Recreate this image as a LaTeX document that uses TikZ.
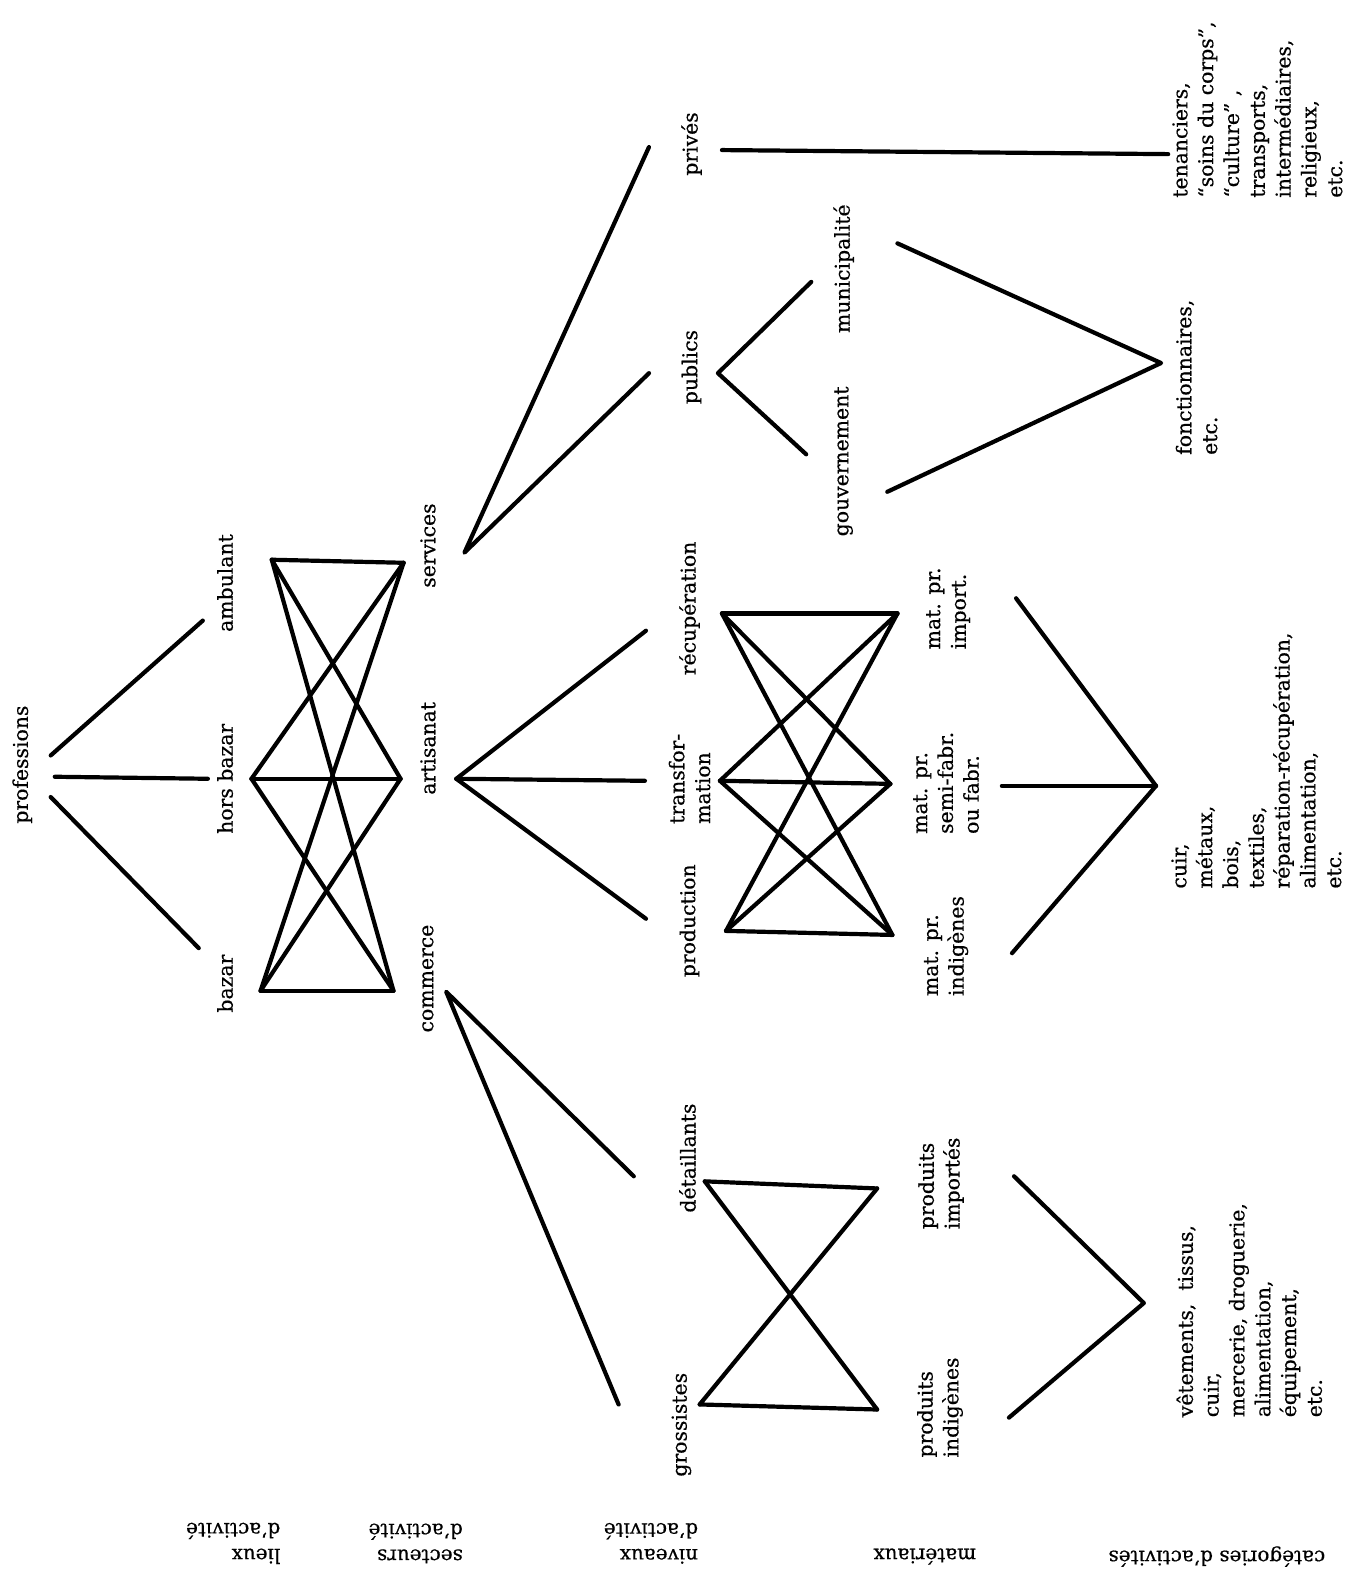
\documentclass[tikz,border=0pt]{standalone}
\usepackage{fontspec}
\setmainfont{DejaVu Serif}
\newfontfamily\lblfont{DejaVu Serif}[Ligatures=TeX,FakeBold=0.5]
\begin{document}
\begin{tikzpicture}[x=0.50713pt,y=-0.50713pt,
  conn/.style={line width=2.1pt, line cap=round, line join=round},
  lbl/.style={rotate=90, align=left, inner sep=0pt, font=\lblfont\fontsize{10.2}{12.9}\selectfont},
  flip/.style={rotate=180, align=left, inner sep=0pt, font=\lblfont\fontsize{10}{12.9}\selectfont}]
\useasboundingbox (0,0) rectangle (1332,1568);

% ---- labels ----
\node[lbl] (prof) at (22,754) {professions};
\node[lbl] (bazar) at (222,970) {bazar};
\node[lbl] (horsbazar) at (222,768) {hors bazar};
\node[lbl] (ambulant) at (222,575) {ambulant};
\node[lbl] (services) at (422,538) {services};
\node[lbl] (artisanat) at (422,738) {artisanat};
\node[lbl] (commerce) at (422,965) {commerce};
\node[lbl] (prives) at (682,142) {privés};
\node[lbl] (publics) at (682,362) {publics};
\node[lbl] (recup) at (680,600) {récupération};
\node[lbl] (transf) at (680,768) {transfor-\\mation};
\node[lbl] (production) at (680,908) {production};
\node[lbl] (detail) at (678,1142) {détaillants};
\node[lbl] (gross) at (672,1405) {grossistes};
\node[lbl] (municip) at (832,265) {municipalité};
\node[lbl] (gouv) at (832,455) {gouvernement};
\node[lbl] (import) at (935,600) {mat. pr.\\import.};
\node[lbl] (semi) at (933,772) {mat. pr.\\semi-fabr.\\ou fabr.};
\node[lbl] (indig) at (933,933) {mat. pr.\\indigènes};
\node[lbl] (prodimp) at (928,1167) {produits\\importés};
\node[lbl] (prodind) at (927,1388) {produits\\indigènes};
\node[lbl] (tenanciers) at (1240,108) {tenanciers,\\“soins du corps”,\\“culture” ,\\transports,\\intermédiaires,\\religieux,\\etc.};
\node[lbl] (fonct) at (1180,372) {fonctionnaires,\\etc.};
\node[lbl] (cuir) at (1239,750) {cuir,\\métaux,\\bois,\\textiles,\\réparation-récupération,\\alimentation,\\etc.};
\node[lbl] (vetements) at (1232,1292) {vêtements,\ \ tissus,\\cuir,\\mercerie,\ droguerie,\\alimentation,\\équipement,\\etc.};

\node[flip] (lieux) at (230,1522) {lieux\\d'activité};
\node[flip] (secteurs) at (410,1522) {secteurs\\d'activité};
\node[flip] (niveaux) at (642,1522) {niveaux\\d'activité};
\node[flip] (materiaux) at (912,1535) {matériaux};
\node[flip] (categories) at (1200,1535) {catégories d'activités};

% ---- vertices ----
\coordinate (pr1) at (50,745);  \coordinate (am1) at (200,612);
\coordinate (pr2) at (54,766);  \coordinate (hb1) at (205,768);
\coordinate (pr3) at (50,786);  \coordinate (bz1) at (196,935);

\coordinate (LT1) at (268,552); \coordinate (RT1) at (398,555);
\coordinate (LM1) at (248,768); \coordinate (RM1) at (395,768);
\coordinate (LB1) at (257,977); \coordinate (RB1) at (388,977);

\coordinate (S) at (458,545); \coordinate (S1) at (640,145); \coordinate (S2) at (640,368);
\coordinate (A) at (450,768); \coordinate (A1) at (637,622); \coordinate (A2) at (636,770); \coordinate (A3) at (637,906);
\coordinate (C) at (440,978); \coordinate (C1) at (625,1160); \coordinate (C2) at (610,1385);

\coordinate (Q0) at (712,148); \coordinate (Q1) at (1152,152);
\coordinate (P) at (708,368); \coordinate (P1) at (800,278); \coordinate (P2) at (795,448);
\coordinate (F) at (1145,358); \coordinate (F1) at (885,240); \coordinate (F2) at (875,485);

\coordinate (LT2) at (712,605); \coordinate (RT2) at (885,605);
\coordinate (LM2) at (710,770); \coordinate (RM2) at (878,773);
\coordinate (LB2) at (716,918); \coordinate (RB2) at (880,922);

\coordinate (V) at (1140,775); \coordinate (V1) at (1002,590); \coordinate (V2) at (988,775); \coordinate (V3) at (998,940);

\coordinate (LT3) at (695,1165); \coordinate (RT3) at (865,1172);
\coordinate (LB3) at (690,1385); \coordinate (RB3) at (865,1390);

\coordinate (W) at (1128,1285); \coordinate (W1) at (1000,1160); \coordinate (W2) at (995,1398);

% ---- connectors ----
\draw[conn] (pr1) -- (am1);
\draw[conn] (pr2) -- (hb1);
\draw[conn] (pr3) -- (bz1);

\foreach \l in {LT1,LM1,LB1}{\foreach \r in {RT1,RM1,RB1}{\draw[conn] (\l) -- (\r);}}

\draw[conn] (S1) -- (S) -- (S2);
\draw[conn] (A) -- (A1); \draw[conn] (A) -- (A2); \draw[conn] (A) -- (A3);
\draw[conn] (C1) -- (C) -- (C2);

\draw[conn] (Q0) -- (Q1);
\draw[conn] (P1) -- (P) -- (P2);
\draw[conn] (F1) -- (F) -- (F2);

\foreach \l in {LT2,LM2,LB2}{\foreach \r in {RT2,RM2,RB2}{\draw[conn] (\l) -- (\r);}}

\draw[conn] (V1) -- (V); \draw[conn] (V2) -- (V); \draw[conn] (V3) -- (V);

\draw[conn] (LT3) -- (RT3);
\draw[conn] (LB3) -- (RB3);
\draw[conn] (LT3) -- (RB3);
\draw[conn] (LB3) -- (RT3);

\draw[conn] (W1) -- (W) -- (W2);
\end{tikzpicture}
\end{document}
